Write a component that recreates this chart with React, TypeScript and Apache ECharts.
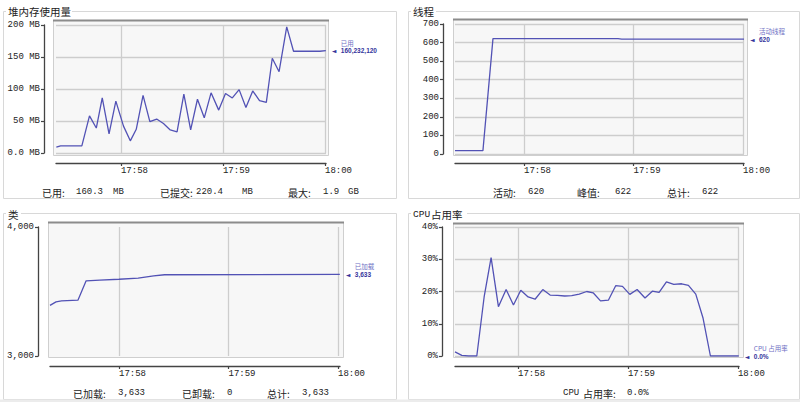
import React, { useEffect, useRef } from 'react';
import * as echarts from 'echarts';

// ---- data (time in seconds relative to 17:58:00) ----
const timeTicks = [0, 60, 120];
const timeTickLabels = ['17:58', '17:59', '18:00'];

const heapTimes = [-38, -35.5, -23, -18.5, -14.5, -11, -7, -3, 1.5, 5.5, 9, 13, 17, 21, 25, 29, 33, 37, 41, 45, 49, 53, 57.5, 61.5, 65.5, 69.5, 73.5, 77.5, 81.5, 85.5, 89, 93, 97.5, 101.5, 117, 120.5];
const heapValues = [9, 11, 11, 58, 39, 86, 30, 81, 42, 19, 37, 90, 49, 53, 46, 36, 33, 92, 36, 84, 55, 94, 67, 93, 86, 99, 71, 97, 82, 79, 148, 127, 197, 159, 159, 160];

const threadTimes = [-37.8, -22.5, -17, 51.5, 53.5, 120.5];
const threadValues = [18, 18, 621, 621, 619, 619];

const classTimes = [-37.8, -34.5, -31.5, -22.5, -18, -10.5, 0, 10.5, 19, 25, 121];
const classValues = [3392, 3420, 3428, 3433, 3583, 3588, 3595, 3603, 3621, 3630, 3633];

const cpuTimes = [-34.4, -30.7, -27, -22.5, -18.5, -14.7, -10.7, -6.5, -2.5, 1.5, 5.5, 9.3, 13.5, 17.5, 21.5, 25.5, 29.3, 33.4, 37.5, 41, 45, 49.3, 53.3, 57, 61, 65, 69.3, 73.3, 77, 81, 85, 89.3, 93, 97, 101, 105, 120.5];
const cpuValues = [1.3, 0.2, 0, 0, 18.3, 30.5, 15.3, 20.6, 15.8, 20.4, 18.3, 17.6, 20.6, 18.9, 18.8, 18.6, 18.7, 19.2, 20.0, 19.6, 17.1, 17.3, 21.8, 21.6, 19.1, 20.6, 18.0, 20.1, 19.7, 23.0, 22.2, 22.4, 21.9, 19.2, 11.7, 0, 0];

const heapTicks = { min: 0, max: 200, interval: 50 };
const threadTicks = { min: 0, max: 700, interval: 100 };
const classTicks = { min: 3000, max: 4000, interval: 1000 };
const cpuTicks = { min: 0, max: 40, interval: 10 };

const MONO = "'Liberation Mono', 'DejaVu Sans Mono', monospace";
const CJK = "'Noto Sans CJK SC', sans-serif";
const LINE = '#5252b5';
const GRIDC = '#cdcdcd';
const AXISC = '#444';
const TEXTC = '#222';

type Panel = {
  grid: { left: number; top: number; width: number; height: number };
  xMin: number; xMax: number;
  y: { min: number; max: number; interval: number };
  yOffset: number; xOffset: number;
  yFmt: (v: number) => string;
  times: number[]; values: number[];
  legendName: string; legendValue: string;
  frame: [number, number, number, number];
};

const panels: Panel[] = [
  {
    grid: { left: 56, top: 25, width: 270, height: 128 }, xMin: -38.2, xMax: 120.6,
    y: heapTicks, yOffset: 12, xOffset: 10,
    yFmt: (v) => (v === 0 ? '0.0 MB' : v + ' MB'),
    times: heapTimes, values: heapValues, legendName: '已用', legendValue: '160,232,120',
    frame: [53, 20, 328, 155],
  },
  {
    grid: { left: 455, top: 24, width: 289, height: 130 }, xMin: -37.8, xMax: 120.5,
    y: threadTicks, yOffset: 12, xOffset: 9,
    yFmt: (v) => String(v),
    times: threadTimes, values: threadValues, legendName: '活动线程', legendValue: '620',
    frame: [453, 19, 747, 155],
  },
  {
    grid: { left: 50, top: 227, width: 290, height: 129 }, xMin: -37.8, xMax: 121.1,
    y: classTicks, yOffset: 12, xOffset: 10,
    yFmt: (v) => v.toLocaleString('en-US'),
    times: classTimes, values: classValues, legendName: '已加载', legendValue: '3,633',
    frame: [48, 222, 343, 357],
  },
  {
    grid: { left: 455, top: 227, width: 284, height: 129 }, xMin: -34.4, xMax: 120.6,
    y: cpuTicks, yOffset: 13, xOffset: 10,
    yFmt: (v) => v + '%',
    times: cpuTimes, values: cpuValues, legendName: 'CPU 占用率', legendValue: '0.0%',
    frame: [453, 223, 743, 357],
  },
];

type T = { t: string; x: number; y: number; cjk?: boolean; size?: number; align?: string };
const statusTexts: T[] = [
  { t: '已用:', x: 42, y: 192, cjk: true }, { t: '160.3', x: 76, y: 192 }, { t: 'MB', x: 113, y: 192 },
  { t: '已提交:', x: 160, y: 192, cjk: true }, { t: '220.4', x: 196, y: 192 }, { t: 'MB', x: 242, y: 192 },
  { t: '最大:', x: 288, y: 192, cjk: true }, { t: '1.9', x: 323, y: 192 }, { t: 'GB', x: 348, y: 192 },
  { t: '活动:', x: 493, y: 192, cjk: true }, { t: '620', x: 528, y: 192 },
  { t: '峰值:', x: 577, y: 192, cjk: true }, { t: '622', x: 615, y: 192 },
  { t: '总计:', x: 667, y: 192, cjk: true }, { t: '622', x: 702, y: 192 },
  { t: '已加载:', x: 73, y: 393, cjk: true }, { t: '3,633', x: 118, y: 393 },
  { t: '已卸载:', x: 182, y: 393, cjk: true }, { t: '0', x: 227, y: 393 },
  { t: '总计:', x: 267, y: 393, cjk: true }, { t: '3,633', x: 302, y: 393 },
  { t: 'CPU', x: 563, y: 393 }, { t: '占用率:', x: 583, y: 393, cjk: true }, { t: '0.0%', x: 627, y: 393 },
];
const titleTexts: T[] = [
  { t: '堆内存使用量', x: 8, y: 11, cjk: true, size: 10.5 },
  { t: '线程', x: 413, y: 11, cjk: true, size: 10.5 },
  { t: '类', x: 8, y: 214, cjk: true, size: 10.5 },
  { t: 'CPU', x: 413, y: 214, size: 9.5 },
  { t: '占用率', x: 431, y: 214, cjk: true, size: 10.5 },
];
const titleBoxes = [[6, 4, 66, 14], [411, 4, 25, 14], [6, 207, 15, 14], [411, 207, 56, 14]];
const panelBoxes = [[3, 11, 393, 187], [408, 11, 391, 187], [3, 213, 393, 186], [408, 213, 391, 186]];

function textEl(d: T, z: number) {
  const size = d.size ?? (d.cjk ? 10 : 9);
  return {
    type: 'text', z, silent: true,
    style: {
      text: d.t, x: d.x, y: d.y, fill: TEXTC,
      font: `${size}px ${d.cjk ? CJK : MONO}`,
      textAlign: 'left', align: 'left', textVerticalAlign: 'middle', verticalAlign: 'middle',
    },
  };
}

export default function App() {
  const ref = useRef<HTMLDivElement>(null);
  useEffect(() => {
    const chart = echarts.init(ref.current!, null, { renderer: 'svg', width: 800, height: 402 });

    const graphics: any[] = [];
    panelBoxes.forEach(([x, y, w, h]) =>
      graphics.push({ type: 'rect', z: -10, silent: true, shape: { x: x + 0.5, y: y + 0.5, width: w, height: h }, style: { fill: '#fff', stroke: '#d8d8d8', lineWidth: 1 } })
    );
    titleBoxes.forEach(([x, y, w, h]) =>
      graphics.push({ type: 'rect', z: -9, silent: true, shape: { x, y, width: w, height: h }, style: { fill: '#fff' } })
    );
    panels.forEach((p) => {
      const [x1, y1, x2, y2] = p.frame;
      graphics.push({ type: 'rect', z: -8, silent: true, shape: { x: x1 + 0.5, y: y1 + 0.5, width: x2 - x1, height: y2 - y1 }, style: { fill: '#f7f7f7', stroke: '#cfcfcf', lineWidth: 1 } });
      graphics.push({ type: 'line', z: 10, silent: true, shape: { x1, y1: y1 + 0.5, x2: x2 + 1, y2: y1 + 0.5 }, style: { stroke: '#8c8c8c', lineWidth: 2 } });
    });
    graphics.push({ type: 'rect', z: -10, silent: true, shape: { x: 0, y: 399.5, width: 800, height: 3 }, style: { fill: '#ececec' } });
    titleTexts.forEach((d) => graphics.push(textEl(d, 5)));
    statusTexts.forEach((d) => graphics.push(textEl(d, 5)));

    const option: any = {
      animation: false,
      backgroundColor: '#fff',
      grid: panels.map((p) => ({ ...p.grid, containLabel: false })),
      xAxis: panels.map((p, i) => ({
        type: 'value', gridIndex: i, min: p.xMin, max: p.xMax, position: 'bottom', offset: p.xOffset,
        axisLine: { show: true, onZero: false, lineStyle: { color: AXISC, width: 1.3 } },
        axisTick: { show: true, customValues: timeTicks, length: 3, lineStyle: { color: AXISC, width: 1.2 } },
        axisLabel: {
          show: true, customValues: timeTicks,
          formatter: (v: number) => timeTickLabels[timeTicks.indexOf(Math.round(v))] ?? '',
          align: 'left', margin: 3, color: TEXTC, fontFamily: MONO, fontSize: 9,
        },
        splitLine: { show: true, lineStyle: { color: GRIDC, width: 1.3 } },
      })),
      yAxis: panels.map((p, i) => ({
        type: 'value', gridIndex: i, min: p.y.min, max: p.y.max, interval: p.y.interval,
        position: 'left', offset: p.yOffset,
        axisLine: { show: true, onZero: false, lineStyle: { color: AXISC, width: 1.3 } },
        axisTick: { show: true, length: 3, lineStyle: { color: AXISC, width: 1.2 } },
        axisLabel: { formatter: p.yFmt, margin: 4, color: TEXTC, fontFamily: MONO, fontSize: 9 },
        splitLine: { show: i !== 2, lineStyle: { color: GRIDC, width: 1.3 } },
      })),
      series: panels.map((p, i) => ({
        type: 'line', xAxisIndex: i, yAxisIndex: i, name: p.legendName,
        data: p.times.map((t, k) => [t, p.values[k]]),
        showSymbol: false, symbol: 'none', smooth: false,
        lineStyle: { color: LINE, width: 1.3 }, itemStyle: { color: LINE },
        z: 3,
        endLabel: {
          show: true, distance: 6, offset: [0, -4],
          formatter: () => `{n|${p.legendName}}\n{m|◄}{v|${p.legendValue}}`,
          rich: {
            n: { fontSize: 6.5, color: '#7070c4', fontFamily: CJK, padding: [0, 0, 0, 9], lineHeight: 8 },
            m: { fontSize: 6, color: '#33339a', width: 9, lineHeight: 8, fontFamily: 'DejaVu Sans' },
            v: { fontSize: 6.5, color: '#35359c', fontWeight: 'bold', fontFamily: "'Liberation Sans', sans-serif", lineHeight: 8 },
          },
        },
      })),
      graphic: { elements: graphics },
    };
    chart.setOption(option);
    return () => chart.dispose();
  }, []);
  return <div ref={ref} style={{ position: 'fixed', left: 0, top: 0, width: 800, height: 402, background: '#fff' }} />;
}
